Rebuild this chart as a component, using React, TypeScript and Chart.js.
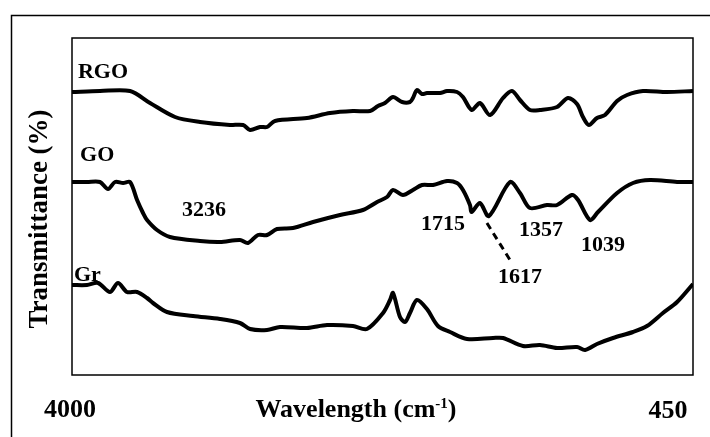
import { useEffect, useRef } from "react";
import { Chart, registerables } from "chart.js";

Chart.register(...registerables);

// Wavenumbers (cm-1) and transmittance (arbitrary units, offset per spectrum)
const rgoWn = [4000, 3840, 3668, 3554, 3411, 3268, 3097, 3022, 2982, 2925, 2885, 2840, 2657, 2525, 2394, 2296, 2251, 2211, 2165, 2113, 2068, 2051, 2028, 1999, 1971, 1896, 1856, 1799, 1765, 1715, 1668, 1610, 1536, 1485, 1439, 1382, 1325, 1227, 1165, 1113, 1079, 1045, 999, 953, 884, 827, 736, 599, 450];
const rgoT = [283, 284, 284, 272, 258, 253, 250, 250, 245, 248, 248, 254, 257, 262, 264, 264, 269, 272, 278, 273, 273, 277, 285, 281, 282, 282, 284, 283, 278, 265, 272, 260, 277, 284, 275, 265, 265, 268, 277, 271, 258, 250, 257, 260, 274, 280, 284, 283, 284];

const goWn = [4000, 3914, 3840, 3794, 3754, 3708, 3668, 3628, 3594, 3571, 3514, 3440, 3268, 3154, 3040, 2994, 2937, 2885, 2828, 2737, 2622, 2468, 2337, 2256, 2199, 2165, 2108, 2051, 1999, 1936, 1856, 1799, 1765, 1725, 1715, 1668, 1617, 1496, 1439, 1382, 1285, 1227, 1142, 1107, 1039, 993, 884, 793, 696, 541, 450];
const goT = [193, 193, 193, 186, 193, 192, 193, 175, 162, 155, 145, 138, 134, 133, 135, 132, 140, 140, 146, 147, 153, 160, 165, 173, 178, 185, 180, 185, 190, 190, 194, 192, 185, 170, 163, 172, 159, 193, 182, 167, 170, 170, 180, 175, 155, 163, 182, 192, 195, 193, 193];

const grWn = [4000, 3914, 3851, 3783, 3737, 3686, 3628, 3571, 3537, 3457, 3308, 3154, 3040, 2982, 2885, 2811, 2657, 2542, 2394, 2314, 2222, 2182, 2165, 2125, 2096, 2068, 2028, 1971, 1908, 1839, 1742, 1593, 1536, 1422, 1325, 1227, 1113, 1067, 999, 907, 793, 713, 622, 541, 450];
const grT = [90, 90, 92, 83, 92, 83, 83, 77, 72, 63, 59, 56, 52, 46, 45, 48, 47, 50, 49, 46, 62, 75, 82, 58, 53, 62, 75, 66, 49, 43, 36, 37, 37, 29, 30, 27, 28, 25, 31, 37, 43, 49, 62, 73, 91];

// Curve names, placed in data units
const seriesNames = ["RGO", "GO", "Gr"];
const seriesNameWn = [3966, 3954, 3989];
const seriesNameT = [303, 220, 100];

// Peak annotations, placed in data units
const peakTexts = ["3236", "1715", "1617", "1357", "1039"];
const peakWn = [3245, 1879, 1439, 1319, 964];
const peakT = [165, 151, 98, 145, 130];

// Dashed leader for the 1617 band
const leaderWn = [1628, 1496];
const leaderT = [152, 115];

const xMin = 450;
const xMax = 4000;
const xTickLabels = ["4000", "450"];

const FONT = "'Liberation Serif', 'Times New Roman', serif";

function toPts(xs: number[], ys: number[]) {
  return xs.map((x, i) => ({ x, y: ys[i] }));
}

export default function App() {
  const ref = useRef<HTMLCanvasElement | null>(null);

  useEffect(() => {
    if (!ref.current) return;
    const overlay = {
      id: "overlay",
      afterDraw(chart: any) {
        const { ctx, chartArea: a, scales } = chart;
        const xs = scales.x;
        const ys = scales.y;
        ctx.save();
        // outer border (only left/top visible)
        ctx.strokeStyle = "#000";
        ctx.lineWidth = 1.5;
        ctx.beginPath();
        ctx.moveTo(11.5, 440);
        ctx.lineTo(11.5, 15.5);
        ctx.lineTo(712, 15.5);
        ctx.stroke();
        // plot frame
        ctx.lineWidth = 1.5;
        ctx.strokeRect(a.left, a.top, a.right - a.left, a.bottom - a.top);

        ctx.fillStyle = "#000";
        // series names
        ctx.font = `bold 22px ${FONT}`;
        ctx.textAlign = "left";
        ctx.textBaseline = "middle";
        seriesNames.forEach((t, i) => {
          ctx.fillText(t, xs.getPixelForValue(seriesNameWn[i]), ys.getPixelForValue(seriesNameT[i]));
        });
        // peak labels
        ctx.font = `bold 22px ${FONT}`;
        ctx.textAlign = "center";
        peakTexts.forEach((t, i) => {
          ctx.fillText(t, xs.getPixelForValue(peakWn[i]), ys.getPixelForValue(peakT[i]));
        });
        // leader
        ctx.lineWidth = 3;
        ctx.setLineDash([7, 5]);
        ctx.beginPath();
        ctx.moveTo(xs.getPixelForValue(leaderWn[0]), ys.getPixelForValue(leaderT[0]));
        ctx.lineTo(xs.getPixelForValue(leaderWn[1]), ys.getPixelForValue(leaderT[1]));
        ctx.stroke();
        ctx.setLineDash([]);

        // x end labels
        ctx.font = `bold 26px ${FONT}`;
        ctx.textBaseline = "alphabetic";
        ctx.textAlign = "center";
        ctx.fillText(xTickLabels[0], xs.getPixelForValue(xMax) - 2, 417);
        ctx.fillText(xTickLabels[1], xs.getPixelForValue(xMin) - 25, 418);

        // x title with superscript
        const main = "Wavelength (cm";
        const sup = "-1";
        const end = ")";
        ctx.font = `bold 26px ${FONT}`;
        const w1 = ctx.measureText(main).width;
        const w3 = ctx.measureText(end).width;
        ctx.font = `bold 15px ${FONT}`;
        const w2 = ctx.measureText(sup).width;
        const total = w1 + w2 + w3;
        let x0 = 356 - total / 2;
        ctx.textAlign = "left";
        ctx.font = `bold 26px ${FONT}`;
        ctx.fillText(main, x0, 417);
        ctx.font = `bold 15px ${FONT}`;
        ctx.fillText(sup, x0 + w1, 408);
        ctx.font = `bold 26px ${FONT}`;
        ctx.fillText(end, x0 + w1 + w2, 417);

        // y title
        ctx.translate(40, 219);
        ctx.rotate(-Math.PI / 2);
        ctx.textAlign = "center";
        ctx.textBaseline = "middle";
        ctx.font = `bold 27px ${FONT}`;
        ctx.fillText("Transmittance (%)", 0, 0);
        ctx.restore();
      },
    };

    const mk = (xs: number[], ys: number[]) => ({
      data: toPts(xs, ys),
      borderColor: "#000",
      borderWidth: 4,
      pointRadius: 0,
      tension: 0.3,
      fill: false,
    });

    const chart = new Chart(ref.current, {
      type: "line",
      data: {
        datasets: [mk(rgoWn, rgoT), mk(goWn, goT), mk(grWn, grT)],
      },
      options: {
        responsive: false,
        animation: false,
        devicePixelRatio: 1,
        layout: { padding: { left: 72, top: 38, right: 17, bottom: 62 } },
        plugins: { legend: { display: false }, tooltip: { enabled: false } },
        scales: {
          x: { type: "linear", min: xMin, max: xMax, reverse: true, display: false },
          y: { type: "linear", min: 0, max: 337, display: false },
        },
      },
      plugins: [overlay],
    } as any);
    return () => chart.destroy();
  }, []);

  return (
    <div style={{ position: "absolute", left: 0, top: 0, width: 710, height: 437, background: "#fff" }}>
      <canvas ref={ref} width={710} height={437} />
    </div>
  );
}
